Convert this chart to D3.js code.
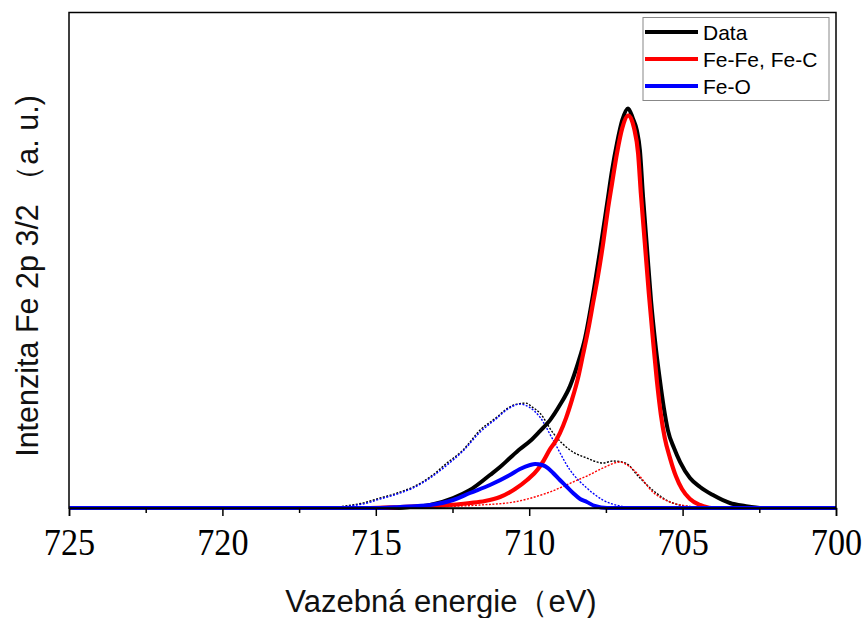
<!DOCTYPE html>
<html>
<head>
<meta charset="utf-8">
<script src="https://cdn.jsdelivr.net/npm/d3@7"></script>
<style>
  html, body { margin: 0; padding: 0; background: #fff; }
  svg { display: block; }
</style>
</head>
<body>
<svg id="chart" width="866" height="618"></svg>
<script>
// Fe 2p3/2 XPS spectra: binding energy (eV) vs. intensity (counts)
const tickValues = [725, 720, 715, 710, 705, 700];
const minorTicks = [722.5, 717.5, 712.5, 707.5, 702.5];

// measured spectrum (thick black)
const dataEnergy = [725, 714.5, 713.89, 713.23, 712.48, 711.93, 711.28, 710.95, 710.63, 710.30, 709.97, 709.65, 709.32, 709.00, 708.67, 708.41, 708.18, 707.95, 707.69, 707.46, 707.30, 707.14, 706.97, 706.78, 706.62, 706.49, 706.39, 706.29, 706.16, 706.03, 705.90, 705.74, 705.61, 705.48, 705.28, 705.08, 704.76, 704.43, 704.01, 703.46, 702.97, 702.38, 700];
const dataValues = [0, 0, 25, 75, 250, 450, 825, 1025, 1250, 1475, 1675, 1925, 2200, 2575, 3050, 3625, 4250, 5200, 6450, 7625, 8450, 9125, 9700, 10000, 9750, 9450, 8950, 7800, 6500, 5200, 4200, 3200, 2500, 1950, 1500, 1150, 750, 525, 325, 125, 50, 0, 0];

// fitted Fe-Fe, Fe-C component (thick red)
const feFeEnergy = [725, 715.19, 714.21, 712.91, 711.93, 711.44, 710.95, 710.46, 710.07, 709.71, 709.52, 709.32, 709.16, 709.00, 708.80, 708.61, 708.41, 708.25, 708.08, 707.92, 707.76, 707.59, 707.43, 707.30, 707.14, 706.97, 706.77, 706.58, 706.45, 706.36, 706.23, 706.10, 705.97, 705.84, 705.71, 705.58, 705.41, 705.22, 705.02, 704.76, 704.43, 704.05, 700];
const feFeValues = [0, 0, 25, 60, 125, 175, 275, 475, 700, 975, 1200, 1475, 1650, 1875, 2250, 2700, 3250, 3825, 4450, 5125, 5800, 6625, 7500, 8125, 8875, 9500, 9825, 9500, 8875, 7875, 6625, 5375, 4250, 3200, 2350, 1750, 1250, 800, 475, 225, 75, 0, 0];

// fitted Fe-O component (thick blue)
const feOEnergy = [725, 714.86, 714.21, 713.23, 712.48, 711.93, 711.28, 710.63, 710.30, 709.97, 709.81, 709.58, 709.39, 709.22, 709.00, 708.80, 708.57, 708.34, 708.12, 707.86, 707.46, 700];
const feOValues = [0, 0, 25, 75, 200, 375, 575, 825, 975, 1075, 1100, 1075, 1000, 875, 700, 550, 375, 225, 150, 50, 0, 0];

// second spectrum (dotted black)
const data2Energy = [725, 716.8, 716.0, 715.42, 714.86, 714.3, 713.79, 713.23, 712.68, 712.16, 711.6, 711.05, 710.7, 710.4, 710.1, 709.9, 709.65, 709.22, 708.67, 708.12, 707.6, 707.27, 707.04, 706.8, 706.45, 705.9, 705.41, 704.66, 704.0, 700];
const data2Values = [0, 0, 50, 125, 250, 375, 525, 775, 1125, 1450, 1950, 2275, 2500, 2600, 2625, 2525, 2375, 1875, 1450, 1250, 1125, 1175, 1160, 1100, 800, 400, 150, 25, 0, 0];

// its Fe-O component (dotted blue)
const feO2Energy = [725, 716.8, 715.42, 714.86, 714.3, 713.79, 713.23, 712.68, 712.16, 711.6, 711.05, 710.7, 710.3, 710.0, 709.65, 709.22, 708.67, 708.12, 707.6, 707.04, 706.5, 700];
const feO2Values = [0, 0, 100, 225, 350, 500, 750, 1075, 1425, 1900, 2250, 2475, 2600, 2525, 2275, 1700, 950, 500, 200, 50, 0, 0];

// its Fe-Fe, Fe-C component (dotted red)
const feFe2Energy = [725, 714, 713.2, 711.6, 710.5, 709.42, 708.35, 708.12, 707.6, 707.04, 706.8, 706.49, 705.97, 705.41, 704.86, 704.0, 700];
const feFe2Values = [0, 0, 25, 75, 150, 375, 725, 800, 1000, 1150, 1075, 875, 400, 150, 50, 0, 0];

const legendLabels = ["Data", "Fe-Fe, Fe-C", "Fe-O"];
const legendColors = ["#000000", "#ff0000", "#0000ff"];

const svg = d3.select("#chart");
const plotLeft = 69, plotRight = 836, plotTop = 12.5, plotBottom = 508;

const x = d3.scaleLinear().domain([725, 700]).range([plotLeft, plotRight]);
const y = d3.scaleLinear().domain([0, 12400]).range([plotBottom, plotTop]);

const line = d3.line()
  .x(d => x(d[0]))
  .y(d => y(d[1]))
  .curve(d3.curveMonotoneX);

const pairs = (e, v) => e.map((d, i) => [d, v[i]]);

const series = [
  { pts: pairs(data2Energy, data2Values), color: "#000000", width: 1.4, dash: "2,1.5" },
  { pts: pairs(feO2Energy, feO2Values), color: "#0000ff", width: 1.4, dash: "2,1.5" },
  { pts: pairs(feFe2Energy, feFe2Values), color: "#ff0000", width: 1.4, dash: "2,1.5" },
  { pts: pairs(dataEnergy, dataValues), color: "#000000", width: 4, dash: null },
  { pts: pairs(feFeEnergy, feFeValues), color: "#ff0000", width: 4.2, dash: null },
  { pts: pairs(feOEnergy, feOValues), color: "#0000ff", width: 4, dash: null }
];

const plot = svg.append("g");
series.forEach(s => {
  plot.append("path")
    .datum(s.pts)
    .attr("d", line)
    .attr("fill", "none")
    .attr("stroke", s.color)
    .attr("stroke-width", s.width)
    .attr("stroke-linejoin", "round")
    .attr("stroke-dasharray", s.dash);
});

// frame
svg.append("rect")
  .attr("x", plotLeft).attr("y", plotTop)
  .attr("width", plotRight - plotLeft).attr("height", plotBottom - plotTop)
  .attr("fill", "none").attr("stroke", "#000").attr("stroke-width", 1.5);

// bottom axis with outward ticks
const xAxis = d3.axisBottom(x)
  .tickValues(tickValues)
  .tickSize(8)
  .tickPadding(12)
  .tickFormat(d3.format("d"));
const gx = svg.append("g").attr("transform", `translate(0,${plotBottom})`).call(xAxis);
gx.select(".domain").attr("stroke-width", 1.5);
gx.selectAll(".tick line").attr("stroke-width", 1.5);
gx.selectAll(".tick text")
  .attr("font-family", "'Liberation Serif', 'Times New Roman', serif")
  .attr("font-size", 38)
  .attr("fill", "#000")
  .attr("dy", "0.71em")
  .attr("transform", "scale(0.9,1)");

const gxMinor = svg.append("g").attr("transform", `translate(0,${plotBottom})`)
  .call(d3.axisBottom(x).tickValues(minorTicks).tickSize(5).tickFormat(""));
gxMinor.select(".domain").remove();
gxMinor.selectAll(".tick line").attr("stroke-width", 1.5);

// axis titles
svg.append("text")
  .attr("x", 441).attr("y", 612)
  .attr("text-anchor", "middle")
  .attr("font-family", "'Liberation Sans', Arial, sans-serif")
  .attr("font-size", 31)
  .attr("fill", "#111")
  .text("Vazebná energie（eV)");

svg.append("text")
  .attr("transform", "translate(38,276) rotate(-90)")
  .attr("text-anchor", "middle")
  .attr("font-family", "'Liberation Sans', Arial, sans-serif")
  .attr("font-size", 30.5)
  .attr("fill", "#111")
  .text("Intenzita Fe 2p 3/2 （a. u.)");

// legend
const lg = svg.append("g");
lg.append("rect")
  .attr("x", 643).attr("y", 17.5).attr("width", 186).attr("height", 83)
  .attr("fill", "#fff").attr("stroke", "#888").attr("stroke-width", 1);
const rowY = [32, 59, 86];
legendLabels.forEach((lab, i) => {
  lg.append("line")
    .attr("x1", 645).attr("x2", 698)
    .attr("y1", rowY[i]).attr("y2", rowY[i])
    .attr("stroke", legendColors[i]).attr("stroke-width", 4);
  lg.append("text")
    .attr("x", 703).attr("y", rowY[i] + 7.5)
    .attr("font-family", "'Liberation Sans', Arial, sans-serif")
    .attr("font-size", 21)
    .attr("fill", "#000")
    .text(lab);
});
</script>
</body>
</html>
